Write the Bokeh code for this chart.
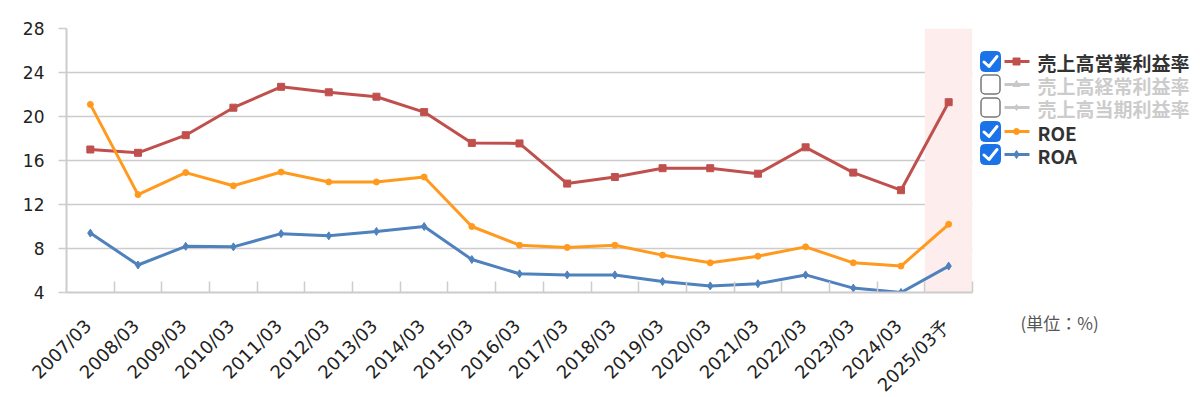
from bokeh.plotting import figure
from bokeh.models import Range1d, FixedTicker, ColumnDataSource, BoxAnnotation
from bokeh.layouts import row
from bokeh.embed import file_html
from bokeh.resources import INLINE
from bokeh.core.properties import value

# ---- data ----
periods = ["2007/03", "2008/03", "2009/03", "2010/03", "2011/03", "2012/03", "2013/03",
           "2014/03", "2015/03", "2016/03", "2017/03", "2018/03", "2019/03", "2020/03",
           "2021/03", "2022/03", "2023/03", "2024/03", "2025/03予"]
op_margin = [17.0, 16.7, 18.3, 20.8, 22.7, 22.2, 21.8, 20.4, 17.6, 17.55, 13.9, 14.5,
             15.3, 15.3, 14.8, 17.2, 14.9, 13.3, 21.3]
roe = [21.1, 12.9, 14.9, 13.7, 14.95, 14.05, 14.05, 14.5, 10.0, 8.3, 8.1, 8.3, 7.4,
       6.7, 7.3, 8.15, 6.7, 6.4, 10.2]
roa = [9.4, 6.5, 8.2, 8.15, 9.35, 9.15, 9.55, 10.0, 7.0, 5.7, 5.6, 5.6, 5.0, 4.6,
       4.8, 5.6, 4.4, 4.0, 6.4]
y_ticks = [4, 8, 12, 16, 20, 24, 28]
legend_labels = ["売上高営業利益率", "売上高経常利益率", "売上高当期利益率", "ROE", "ROA"]
legend_checked = [True, False, False, True, True]
unit_label = "(単位：%)"

RED = "#c0504d"
ORANGE = "#ff9a1e"
BLUE = "#4f81bd"
GRID = "#cccccc"
TICK_FONT = "DejaVu Sans"
JP_FONT = "Noto Sans CJK JP"

n = len(periods)
xs = [i + 0.5 for i in range(n)]
label_pos = [i + 0.45 for i in range(n)]
src = ColumnDataSource(dict(x=xs, op=op_margin, roe=roe, roa=roa))

p = figure(width=978, height=381, output_backend="svg", toolbar_location=None,
           x_range=Range1d(0, n), y_range=Range1d(4, 28),
           min_border_left=66, min_border_right=6, min_border_top=28, min_border_bottom=89)
p.frame_width = 906
p.frame_height = 264
p.outline_line_color = None
p.background_fill_color = "white"

# forecast band
p.add_layout(BoxAnnotation(left=n - 1, right=n, fill_color="#fdeded", fill_alpha=1.0,
                           line_color=None, level="underlay"))

# axes
p.xaxis.ticker = FixedTicker(ticks=label_pos, minor_ticks=list(range(1, n + 1)))
p.xaxis.major_label_overrides = {x: lab for x, lab in zip(label_pos, periods)}
p.xaxis.major_label_orientation = 0.785398
p.xaxis.major_tick_line_color = None
p.xaxis.minor_tick_line_color = GRID
p.xaxis.minor_tick_line_width = 1.5
p.xaxis.minor_tick_in = 11
p.xaxis.minor_tick_out = 0
p.xaxis.axis_line_color = GRID
p.xaxis.axis_line_width = 2
p.xaxis.major_label_text_font = TICK_FONT
p.xaxis.major_label_text_font_size = "18px"
p.xaxis.major_label_text_color = "#222222"
p.xaxis.major_label_standoff = 24

p.yaxis.ticker = FixedTicker(ticks=y_ticks)
p.yaxis.minor_tick_line_color = None
p.yaxis.major_tick_line_color = GRID
p.yaxis.major_tick_line_width = 1.5
p.yaxis.major_tick_out = 8
p.yaxis.major_tick_in = 0
p.yaxis.axis_line_color = GRID
p.yaxis.axis_line_width = 2
p.yaxis.major_label_text_font = TICK_FONT
p.yaxis.major_label_text_font_size = "17px"
p.yaxis.major_label_text_color = "#222222"
p.yaxis.major_label_standoff = 14

p.xgrid.grid_line_color = None
p.ygrid.ticker = FixedTicker(ticks=y_ticks)
p.ygrid.grid_line_color = GRID
p.ygrid.grid_line_width = 1.5

# series
p.line("x", "op", source=src, line_color=RED, line_width=3)
p.scatter("x", "op", source=src, marker="square", size=7, color=RED)
p.line("x", "roe", source=src, line_color=ORANGE, line_width=3)
p.scatter("x", "roe", source=src, marker="circle", size=6, color=ORANGE)
p.line("x", "roa", source=src, line_color=BLUE, line_width=3)
p.scatter("x", "roa", source=src, marker="diamond", size=8, color=BLUE)

# ---- legend panel (coordinates in page pixels) ----
L_LEFT, L_W = 978, 214
lg = figure(width=L_W, height=381, output_backend="svg", toolbar_location=None,
            x_range=Range1d(L_LEFT, L_LEFT + L_W), y_range=Range1d(381, 28),
            min_border_left=0, min_border_right=0, min_border_top=28, min_border_bottom=0)
lg.frame_height = 353
lg.frame_width = L_W
lg.axis.visible = False
lg.grid.visible = False
lg.outline_line_color = None

colors = [RED, "#c8c8c8", "#c8c8c8", ORANGE, BLUE]
markers = ["square", "triangle", "diamond", "circle", "diamond"]
msizes = [7, 7, 6, 6, 8]
row_y = [61, 84, 107, 131, 154]
for lab, chk, col, mk, ms, yy in zip(legend_labels, legend_checked, colors, markers, msizes, row_y):
    if chk:
        lg.rect(x=[990], y=[yy], width=20, height=20, fill_color="#1a73e8",
                line_color="#1a73e8", border_radius=4)
        lg.line(x=[983.5, 988.5, 996.5], y=[yy + 0.5, yy + 5, yy - 5], line_color="white",
                line_width=3, line_join="round", line_cap="round")
    else:
        lg.rect(x=[990], y=[yy], width=19, height=19, fill_color="white",
                line_color="#777777", line_width=1.5, border_radius=4)
    lg.line(x=[1004, 1029], y=[yy, yy], line_color=col, line_width=3)
    lg.scatter(x=[1016], y=[yy], marker=mk, size=ms, color=col)
    lg.text(x=[1037], y=[yy + 1], text=[lab], text_font=value(JP_FONT),
            text_font_size="19px", text_font_style="bold",
            text_color="#333333" if chk else "#cccccc",
            text_baseline="middle", text_align="left")

lg.text(x=[1020], y=[322], text=[unit_label], text_font=value(JP_FONT),
        text_font_size="17px", text_color="#555555",
        text_baseline="middle", text_align="left")

layout = row(p, lg)
open("out.html", "w").write(file_html(layout, INLINE))
